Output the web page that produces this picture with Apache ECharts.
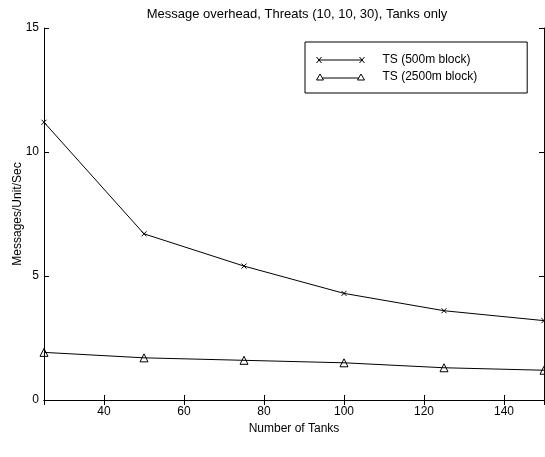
<!DOCTYPE html>
<html>
<head>
<meta charset="utf-8">
<script src="https://cdn.jsdelivr.net/npm/echarts@6/dist/echarts.min.js"></script>
<style>
html,body{margin:0;padding:0;background:#fff;}
#chart{width:545px;height:457px;}
</style>
</head>
<body>
<div id="chart"></div>
<script>
const tanks = [25, 50, 75, 100, 125, 150];
const ts500 = [11.2, 6.7, 5.4, 4.3, 3.6, 3.2];
const ts2500 = [1.92, 1.7, 1.6, 1.5, 1.3, 1.2];
const seriesNames = ['TS (500m block)', 'TS (2500m block)'];
const titleText = 'Message overhead, Threats (10, 10, 30), Tanks only';
const xName = 'Number of Tanks';
const yName = 'Messages/Unit/Sec';

const font = 'Liberation Sans, Arial, Helvetica, sans-serif';
const xPath = 'path://M0,0L5,6M0,6L5,0M2.5,3L45.5,3M43,0L48,6M43,6L48,0';
const triPath = 'path://M0,6L3.5,0L7,6ZM5.8,4L42.2,4M41,6L44.5,0L48,6Z';

const chart = echarts.init(document.getElementById('chart'), null, {renderer: 'canvas'});
const axisCommon = {
  axisLine: {show: true, lineStyle: {color: '#000', width: 1}},
  axisTick: {show: true, inside: true, length: 5, lineStyle: {color: '#000'}},
  splitLine: {show: false}
};
chart.setOption({
  animation: false,
  backgroundColor: '#fff',
  title: {
    text: titleText, left: 292, top: 3, textAlign: 'center',
    textStyle: {fontFamily: font, fontSize: 13, fontWeight: 'normal', color: '#000'}
  },
  grid: {left: 44, right: 1, top: 28, bottom: 57, containLabel: false},
  legend: {
    orient: 'vertical', left: 305, top: 42,
    backgroundColor: '#fff', borderColor: '#000', borderWidth: 1,
    padding: [12, 50, 10, 9], itemGap: 5,
    itemWidth: 48, itemHeight: 6, symbolKeepAspect: false,
    textStyle: {fontFamily: font, fontSize: 12, color: '#000', padding: [0, 0, 0, 13]},
    data: [
      {name: seriesNames[0], icon: xPath, itemStyle: {color: 'none', borderColor: '#000', borderWidth: 1}},
      {name: seriesNames[1], icon: triPath, itemStyle: {color: 'none', borderColor: '#000', borderWidth: 1}}
    ]
  },
  xAxis: [
    Object.assign({
      type: 'value', min: 25, max: 150, splitNumber: 6,
      name: xName, nameLocation: 'middle', nameGap: 23, nameMoveOverlap: false,
      nameTextStyle: {fontFamily: font, fontSize: 12, color: '#000'},
      axisLabel: {fontFamily: font, fontSize: 12, color: '#000', margin: 6, showMinLabel: false, showMaxLabel: false}
    }, axisCommon),
    Object.assign({
      type: 'value', min: 25, max: 150, splitNumber: 6, position: 'top',
      axisLabel: {show: false}
    }, axisCommon)
  ],
  yAxis: [
    Object.assign({
      type: 'value', min: 0, max: 15, interval: 5,
      name: yName, nameLocation: 'middle', nameGap: 20, nameMoveOverlap: false,
      nameTextStyle: {fontFamily: font, fontSize: 12, color: '#000'},
      axisLabel: {fontFamily: font, fontSize: 12, color: '#000', margin: 5}
    }, axisCommon),
    Object.assign({
      type: 'value', min: 0, max: 15, interval: 5, position: 'right',
      axisLabel: {show: false}
    }, axisCommon)
  ],
  series: [
    {
      name: seriesNames[0], type: 'line',
      data: tanks.map((t, i) => [t, ts500[i]]),
      symbol: 'path://M0,0L10,10M0,10L10,0', symbolSize: 5,
      itemStyle: {color: '#000', borderColor: '#000', borderWidth: 1},
      lineStyle: {color: '#000', width: 1}
    },
    {
      name: seriesNames[1], type: 'line',
      data: tanks.map((t, i) => [t, ts2500[i]]),
      symbol: 'triangle', symbolSize: 8,
      itemStyle: {color: 'none', borderColor: '#000', borderWidth: 1},
      lineStyle: {color: '#000', width: 1}
    }
  ]
});
</script>
</body>
</html>
